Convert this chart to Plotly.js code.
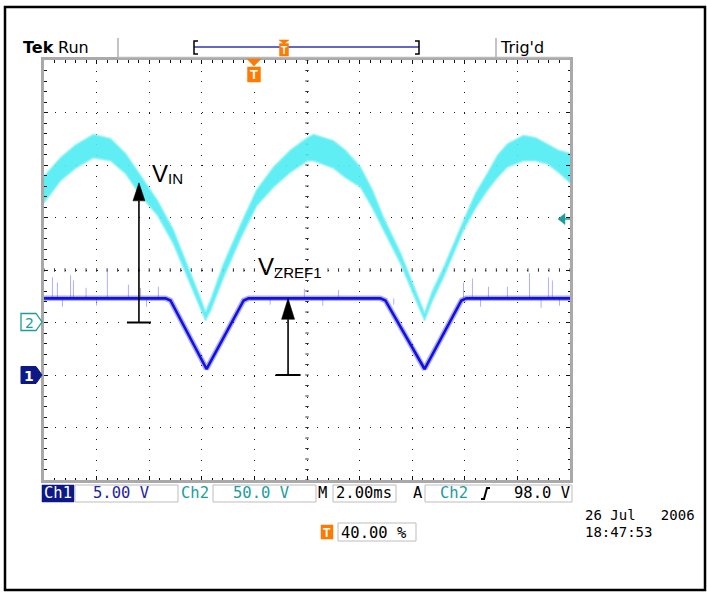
<!DOCTYPE html>
<html>
<head>
<meta charset="utf-8">
<script src="https://cdn.plot.ly/plotly-3.0.1.min.js"></script>
<style>
  html, body { margin: 0; padding: 0; background: #ffffff; }
  #scope { width: 707px; height: 593px; }
</style>
</head>
<body>
<div id="scope"></div>
<script>
// Ch2 (VIN, 50 V/div): upper and lower edges of the trace band, in volts
const timeMs    = [0.00,0.63,1.20,1.88,2.53,3.10,3.67,4.32,4.92,5.57,5.95,6.14,6.33,6.83,7.49,8.08,8.73,9.37,10.02,10.25,
                   11.01,11.46,12.03,12.49,12.91,13.56,14.01,14.47,14.77,15.19,15.95,16.41,16.86,17.24,17.62,18.23,18.69,19.15,19.56,20.00];
const ch2UpperV = [139,157,169,179,175,161,140,116,88,48,23,10,21,56,94,126,148,164,176,179,
                   173,164,148,126,100,66,37,9,30,52,97,123,142,159,170,178,176,170,164,161];
const ch2LowerV = [114,135,147,157,154,142,121,102,75,37,14,2,11,43,81,111,129,143,154,154,
                   147,138,129,109,88,56,29,2,21,43,88,109,126,138,148,154,154,151,143,133];

// Ch1 (VZREF1, 5 V/div)
const ch1TimeMs = [0, 4.62, 4.81, 6.18, 7.59, 7.78, 12.79, 12.98, 14.47, 15.87, 16.06, 20];
const ch1V      = [7.3, 7.3, 7.1, 0.57, 7.1, 7.3, 7.3, 7.1, 0.57, 7.1, 7.3, 7.3];

// Ch1 glitches above and below the clamped level
const ch1Level     = 7.3;
const spikeTimeMs  = [0.32,0.51,1.01,1.12,1.60,2.41,3.21,3.67,4.35,9.90,11.20,15.95,16.29,16.90,17.62,18.46,19.18,19.33];
const spikeTopV    = [9.3,8.8,9.5,9.0,8.3,10.1,8.6,8.3,8.4,8.2,8.1,8.8,9.2,8.4,8.4,9.7,9.3,9.0];
const dipTimeMs    = [0.70,2.00,3.90,8.60,10.60,13.30,16.60,18.90,19.60];
const dipLowV      = [6.5,6.6,6.5,6.7,6.6,6.7,6.5,6.4,6.6];

// Arrow markers: VIN tip on Ch2, VZREF1 tip on Ch1
const vinArrowMs = 3.61, vinTipV = 133;
const vzArrowMs  = 9.28, vzTipV  = 7.3;

// Readout texts
const ch1Scale = '5.00 V', ch2Scale = '50.0 V', timeBase = '2.00ms';
const trigSource = 'Ch2', trigLevel = '98.0 V', trigPos = '40.00 %';
const dateText = '26 Jul   2006', timeText = '18:47:53';

// ---- screen geometry (pixels) ----
const L = 44, T = 60, W = 526, H = 420;
const px = x => (x - L) / W;
const py = y => (T + H - y) / H;
const poly = pts => 'M' + pts.map(p => px(p[0]) + ',' + py(p[1])).join('L') + 'Z';
const msPerPx = 20 / W, vPerPxCh1 = 40 / H, vPerPxCh2 = 400 / H;

const TEAL = '#1c9c9c', NAVY = '#0c1888', ORANGE = '#ff7a00';
const MONO = 'DejaVu Sans Mono, Liberation Mono, monospace';
const SANS = 'DejaVu Sans, sans-serif';
const ARIAL = 'Liberation Sans, Arial, sans-serif';

// spikes as broken segments
const spikeX = [], spikeY = [];
spikeTimeMs.forEach((t, i) => { spikeX.push(t, t, null); spikeY.push(ch1Level, spikeTopV[i], null); });
dipTimeMs.forEach((t, i) => { spikeX.push(t, t, null); spikeY.push(ch1Level, dipLowV[i], null); });

// centre-line graticule ticks
const cTickX = [], cTickYv = [];
for (let k = 0; k <= 50; k++) cTickX.push(k * 0.4);
for (let k = 0; k <= 40; k++) cTickYv.push(-10 + k);

const traces = [
  { x: cTickX, y: cTickX.map(() => 10), type: 'scatter', mode: 'markers',
    marker: { symbol: 'line-ns', size: 2.5, line: { width: 1, color: '#333' } }, hoverinfo: 'skip' },
  { x: cTickYv.map(() => 10), y: cTickYv, type: 'scatter', mode: 'markers',
    marker: { symbol: 'line-ew', size: 2.5, line: { width: 1, color: '#333' } }, hoverinfo: 'skip' },
  { x: spikeX, y: spikeY, type: 'scatter', mode: 'lines',
    line: { color: 'rgba(130,130,255,0.65)', width: 1 }, hoverinfo: 'skip' },
  { x: ch1TimeMs, y: ch1V, type: 'scatter', mode: 'lines',
    line: { color: 'rgba(50,50,235,0.4)', width: 5.5 }, hoverinfo: 'skip' },
  { x: ch1TimeMs, y: ch1V, type: 'scatter', mode: 'lines',
    line: { color: '#1212dc', width: 2.6 }, hoverinfo: 'skip' },
  { x: timeMs, y: ch2LowerV, yaxis: 'y2', type: 'scatter', mode: 'lines',
    line: { color: 'rgba(140,242,246,0.7)', width: 2 }, hoverinfo: 'skip' },
  { x: timeMs, y: ch2UpperV, yaxis: 'y2', type: 'scatter', mode: 'lines', fill: 'tonexty',
    fillcolor: 'rgba(78,236,242,0.9)',
    line: { color: 'rgba(140,242,246,0.7)', width: 2 }, hoverinfo: 'skip' }
];

const axisCommon = {
  showticklabels: false, zeroline: false,
  showgrid: true, gridcolor: '#1a1a1a', gridwidth: 1,
  showline: true, linecolor: '#a9a9a9', linewidth: 3, mirror: 'ticks',
  ticks: 'inside', ticklen: 4, tickwidth: 1, tickcolor: '#111',
  fixedrange: true
};

const shapes = [];
const annotations = [];
const txt = (x, y, s, o = {}) => annotations.push(Object.assign({
  xref: 'paper', yref: 'paper', x: px(x), y: py(y), text: s, showarrow: false,
  xanchor: 'left', yanchor: 'middle', borderpad: 0,
  font: { family: MONO, size: 15.5, color: '#000' }
}, o));
const rect = (x0, y0, x1, y1, o = {}) => shapes.push(Object.assign({
  type: 'rect', xref: 'paper', yref: 'paper', x0: px(x0), y0: py(y0), x1: px(x1), y1: py(y1),
  line: { color: '#bdbdbd', width: 1 }, fillcolor: 'rgba(0,0,0,0)'
}, o));
const seg = (x0, y0, x1, y1, color, width) => shapes.push({
  type: 'line', xref: 'paper', yref: 'paper', x0: px(x0), y0: py(y0), x1: px(x1), y1: py(y1),
  line: { color: color, width: width }
});
const path = (d, fill, lineColor, lw) => shapes.push({
  type: 'path', xref: 'paper', yref: 'paper', path: d, fillcolor: fill,
  line: { color: lineColor, width: lw }
});

// outer frame
rect(5, 7, 705, 590, { line: { color: '#000', width: 2.5 } });

// header
txt(22, 47, '<b>Tek</b>', { font: { family: SANS, size: 16, color: '#000' } });
txt(57, 47, 'Run', { font: { family: SANS, size: 16, color: '#000' } });
seg(118, 38, 118, 57, '#b0b0b0', 1.5);
seg(496, 38, 496, 57, '#b0b0b0', 1.5);
seg(118, 57.5, 570, 57.5, '#b8b8b8', 1.5);
txt(499, 47, "Trig'd", { font: { family: SANS, size: 16, color: '#000' } });
// record-length bracket
seg(194, 47, 419, 47, '#6666c4', 2);
shapes.push({ type: 'path', xref: 'paper', yref: 'paper',
  path: 'M' + px(198) + ',' + py(41) + 'L' + px(194) + ',' + py(41) + 'L' + px(194) + ',' + py(54) + 'L' + px(198) + ',' + py(54),
  line: { color: '#000', width: 1.5 } });
shapes.push({ type: 'path', xref: 'paper', yref: 'paper',
  path: 'M' + px(415) + ',' + py(41) + 'L' + px(419) + ',' + py(41) + 'L' + px(419) + ',' + py(54) + 'L' + px(415) + ',' + py(54),
  line: { color: '#000', width: 1.5 } });
path(poly([[279, 40], [289, 40], [284, 44]]), ORANGE, ORANGE, 0.5);
rect(279.5, 43.5, 288.5, 56, { fillcolor: ORANGE, line: { color: ORANGE, width: 0.5 } });
txt(284, 50, '<b>T</b>', { xanchor: 'center', font: { family: ARIAL, size: 10, color: '#fff' } });

// trigger-position marker
path(poly([[247, 59], [261, 59], [254, 66]]), ORANGE, ORANGE, 0.5);
rect(247.5, 67, 260.5, 82, { fillcolor: ORANGE, line: { color: ORANGE, width: 0.5 } });
txt(254, 74.5, '<b>T</b>', { xanchor: 'center', font: { family: ARIAL, size: 13, color: '#fff' } });

// channel ground markers
path(poly([[21, 313.5], [36, 313.5], [42, 322], [36, 330.5], [21, 330.5]]), '#ffffff', TEAL, 1.3);
txt(29, 322.5, '2', { xanchor: 'center', font: { family: SANS, size: 14, color: TEAL } });
path(poly([[21, 366.5], [36, 366.5], [42, 375], [36, 383.5], [21, 383.5]]), NAVY, NAVY, 1);
txt(29, 375.5, '<b>1</b>', { xanchor: 'center', font: { family: SANS, size: 14, color: '#fff' } });

// trigger level marker
path(poly([[558, 219], [565, 213.5], [565, 224.5]]), TEAL, TEAL, 0.5);
seg(564, 219, 570, 219, TEAL, 1.5);

// readout row
rect(42, 485, 74, 502, { fillcolor: NAVY, line: { color: NAVY, width: 0.5 } });
txt(58, 493.5, 'Ch1', { xanchor: 'center', font: { family: MONO, size: 15.5, color: '#fff' } });
rect(75, 485, 178, 502);
txt(92, 493.5, ch1Scale, { font: { family: MONO, size: 15.5, color: '#1e22a8' } });
txt(180, 493.5, 'Ch2', { font: { family: MONO, size: 15.5, color: TEAL } });
rect(213, 485, 316, 502);
txt(232, 493.5, ch2Scale, { font: { family: MONO, size: 15.5, color: TEAL } });
txt(317, 493.5, 'M', { font: { family: MONO, size: 15.5, color: '#000' } });
rect(333, 485, 396, 502);
txt(335, 493.5, timeBase, { font: { family: MONO, size: 15.5, color: '#000' } });
txt(412, 493.5, 'A', { font: { family: MONO, size: 15.5, color: '#000' } });
rect(425, 485, 572, 502);
txt(439, 493.5, trigSource, { font: { family: MONO, size: 15.5, color: TEAL } });
shapes.push({ type: 'path', xref: 'paper', yref: 'paper',
  path: 'M' + px(481) + ',' + py(499) + 'L' + px(484) + ',' + py(499) + 'L' + px(487) + ',' + py(488) + 'L' + px(490) + ',' + py(488),
  line: { color: '#000', width: 2 } });
txt(571, 493.5, trigLevel, { xanchor: 'right', font: { family: MONO, size: 15.5, color: '#000' } });

// trigger position + timestamp
rect(321, 525, 333, 539, { fillcolor: ORANGE, line: { color: ORANGE, width: 0.5 } });
txt(327, 532.5, '<b>T</b>', { xanchor: 'center', font: { family: ARIAL, size: 12, color: '#fff' } });
rect(338, 523, 416, 541);
txt(340, 532.5, trigPos, { font: { family: MONO, size: 15.5, color: '#000' } });
txt(584, 515, dateText, { font: { family: MONO, size: 14, color: '#000' } });
txt(584, 531.5, timeText, { font: { family: MONO, size: 14, color: '#000' } });

// VIN arrow (Ch2 axis)
const vinHeadLen = 18 * vPerPxCh2, vinHalfW = 6 * msPerPx;
shapes.push({ type: 'line', xref: 'x', yref: 'y2', x0: vinArrowMs, y0: 0, x1: vinArrowMs, y1: vinTipV - vinHeadLen,
  line: { color: '#000', width: 1.6 } });
shapes.push({ type: 'line', xref: 'x', yref: 'y2', x0: vinArrowMs - 12 * msPerPx, y0: 0, x1: vinArrowMs + 12 * msPerPx, y1: 0,
  line: { color: '#000', width: 2 } });
shapes.push({ type: 'path', xref: 'x', yref: 'y2', fillcolor: '#000', line: { color: '#000', width: 0.5 },
  path: 'M' + vinArrowMs + ',' + vinTipV + 'L' + (vinArrowMs - vinHalfW) + ',' + (vinTipV - vinHeadLen) +
        'L' + (vinArrowMs + vinHalfW) + ',' + (vinTipV - vinHeadLen) + 'Z' });

// VZREF1 arrow (Ch1 axis)
const vzHeadLen = 21 * vPerPxCh1, vzHalfW = 6.5 * msPerPx;
shapes.push({ type: 'line', xref: 'x', yref: 'y', x0: vzArrowMs, y0: 0, x1: vzArrowMs, y1: vzTipV - vzHeadLen,
  line: { color: '#000', width: 1.6 } });
shapes.push({ type: 'line', xref: 'x', yref: 'y', x0: vzArrowMs - 12.5 * msPerPx, y0: 0, x1: vzArrowMs + 12.5 * msPerPx, y1: 0,
  line: { color: '#000', width: 2 } });
shapes.push({ type: 'path', xref: 'x', yref: 'y', fillcolor: '#000', line: { color: '#000', width: 0.5 },
  path: 'M' + vzArrowMs + ',' + vzTipV + 'L' + (vzArrowMs - vzHalfW) + ',' + (vzTipV - vzHeadLen) +
        'L' + (vzArrowMs + vzHalfW) + ',' + (vzTipV - vzHeadLen) + 'Z' });

// signal labels
txt(151, 173.5, 'V', { font: { family: ARIAL, size: 24, color: '#000' } });
txt(167, 178.5, 'IN', { font: { family: ARIAL, size: 15, color: '#000' } });
txt(257, 266.5, 'V', { font: { family: ARIAL, size: 24, color: '#000' } });
txt(273, 272.5, 'ZREF1', { font: { family: ARIAL, size: 15, color: '#000' } });

const layout = {
  width: 707, height: 593,
  margin: { l: L, r: 707 - L - W, t: T, b: 593 - T - H, pad: 0 },
  paper_bgcolor: '#ffffff', plot_bgcolor: '#ffffff',
  showlegend: false, hovermode: false,
  xaxis: Object.assign({}, axisCommon, { range: [0, 20], dtick: 2, tick0: 0, griddash: '1px,9.52px',
    minor: { dtick: 0.4, ticks: 'inside', ticklen: 2.5, tickcolor: '#111', showgrid: false } }),
  yaxis: Object.assign({}, axisCommon, { range: [-10, 30], dtick: 5, tick0: -10, griddash: '1px,9.5px',
    minor: { dtick: 1, ticks: 'inside', ticklen: 2.5, tickcolor: '#111', showgrid: false } }),
  yaxis2: { overlaying: 'y', range: [-150, 250], visible: false, fixedrange: true },
  shapes: shapes,
  annotations: annotations
};

Plotly.newPlot('scope', traces, layout, { displayModeBar: false, staticPlot: true });
</script>
</body>
</html>
